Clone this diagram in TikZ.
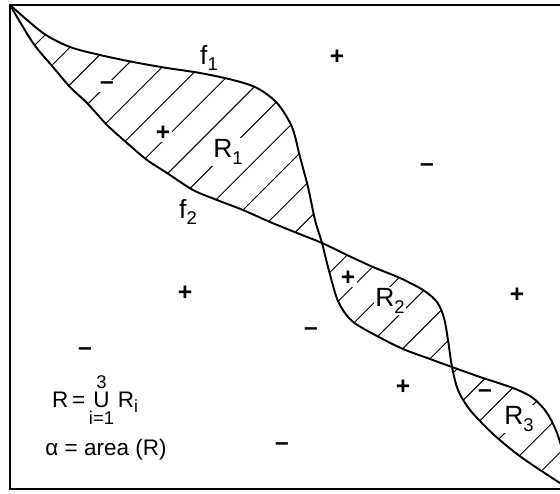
\documentclass[tikz,border=0pt]{standalone}
\usepackage{fontspec}
\setmainfont{Liberation Sans}
\usetikzlibrary{positioning}
\newcommand{\lowix}[1]{\raisebox{-0.45ex}{\fontsize{10.5}{11}\selectfont #1}}
\newcommand{\smallix}[1]{\raisebox{-0.4ex}{\fontsize{10}{11}\selectfont #1}}
\newcommand{\limfont}{\fontsize{10.5}{11}\selectfont}

\begin{document}
\begin{tikzpicture}[x=0.02cm,y=-0.02cm,
    lbl/.style={font=\fontsize{15}{17}\selectfont,inner sep=1pt},
    flbl/.style={font=\fontsize{12.8}{14}\selectfont,inner sep=1pt},
    cut/.style={fill=white},
    psign/.style={font=\fontsize{14}{16}\selectfont\bfseries,inner sep=1pt},
    curve/.style={line width=1.1pt,line join=round},
    hatch/.style={line width=0.55pt},
    frame/.style={line width=0.9pt}
  ]
  \useasboundingbox (0,0) rectangle (560,493);
  \clip (0,0) rectangle (560,493);

  % hatching between f1 and f2
  \begin{scope}
    \clip plot[smooth] coordinates {(10,5) (43,33) (70,47) (100,55) (133,62) (167,68) (200,73) (233,80) (257,88) (277,103) (292,127) (300,157) (308,187) (315,220) (322,243) (328,267) (338,301) (352,321) (377,336) (403,349) (430,359) (452,367) (480,377) (513,388) (533,398) (547,413) (557,433) (565,460) (572,490)}
      -- plot[smooth] coordinates {(572,490) (560,483) (540,470) (517,454) (493,434) (470,410) (458,390) (452,367) (448,340) (444,318) (437,302) (423,290) (400,278) (373,267) (347,255) (322,243) (297,233) (270,222) (243,210) (217,200) (193,190) (167,173) (147,160) (127,143) (107,125) (87,103) (70,87) (53,67) (33,43) (10,5)} -- cycle;
    \foreach \k in {0,...,30}
      \draw[hatch] ({80+37.3*\k},0) -- ({80+37.3*\k-700},700);
  \end{scope}

  % f1 and f2
  \draw[curve] plot[smooth] coordinates {(10,5) (43,33) (70,47) (100,55) (133,62) (167,68) (200,73) (233,80) (257,88) (277,103) (292,127) (300,157) (308,187) (315,220) (322,243) (328,267) (338,301) (352,321) (377,336) (403,349) (430,359) (452,367) (480,377) (513,388) (533,398) (547,413) (557,433) (565,460) (572,490)};
  \draw[curve] plot[smooth] coordinates {(10,5) (33,43) (53,67) (70,87) (87,103) (107,125) (127,143) (147,160) (167,173) (193,190) (217,200) (243,210) (270,222) (297,233) (322,243) (347,255) (373,267) (400,278) (423,290) (437,302) (444,318) (448,340) (452,367) (458,390) (470,410) (493,434) (517,454) (540,470) (560,483) (572,490)};

  \draw[frame] (562,5) -- (10,5) -- (10,489) -- (562,489);

  % labels
  \node[lbl] (fone) at (209,58) {f\lowix{1}};
  \node[lbl] (ftwo) at (188,212) {f\lowix{2}};
  \node[lbl,cut] (rone) at (228,152) {R\lowix{1}};
  \node[lbl,cut] (rtwo) at (390,301) {R\lowix{2}};
  \node[lbl,cut] (rthree) at (519,419) {R\lowix{3}};

  % signs
  \node[psign,cut] (pa) at (163,133) {+};
  \node[psign] (pb) at (337,57) {+};
  \node[psign,cut] (pc) at (348,278) {+};
  \node[psign] (pd) at (517,295) {+};
  \node[psign] (pe) at (403,387) {+};
  \node[psign] (pf) at (185,293) {+};
  \node[psign,cut] (ma) at (107,86) {–};
  \node[psign] (mb) at (427,168) {–};
  \node[psign] (mc) at (311,332) {–};
  \node[psign,cut] (md) at (485,394) {–};
  \node[psign] (me) at (85,352) {–};
  \node[psign] (mf) at (282,447) {–};

  % formulas
  \node[flbl] (union) at (95,400)
    {R\,=\,$\mathop{\hbox{U}}\limits^{\hbox{\limfont 3}}_{\hbox{\limfont i=1}}$\,R\smallix{i}};
  \node[flbl] (alpha) at (106,450) {α = area (R)};
\end{tikzpicture}
\end{document}
